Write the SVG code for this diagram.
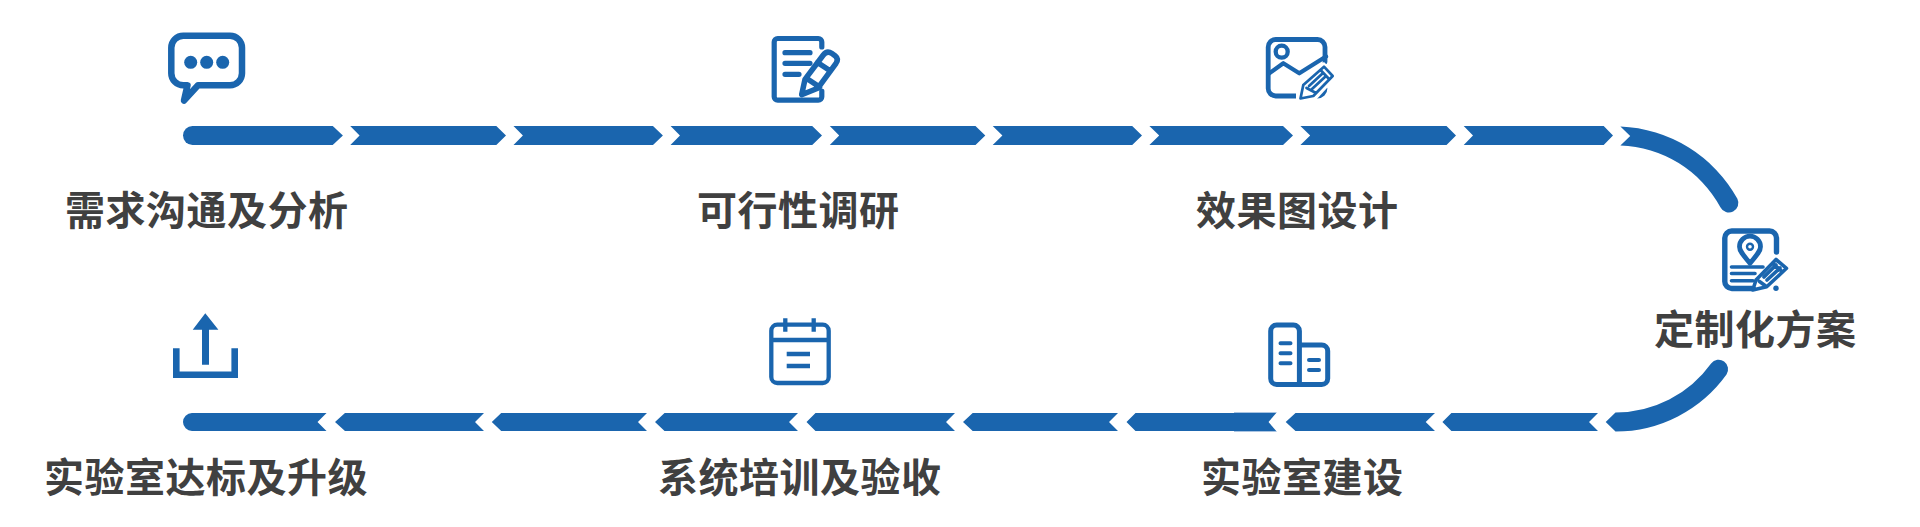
<svg xmlns="http://www.w3.org/2000/svg" width="1920" height="527" viewBox="0 0 1920 527">
<style>
.lb{font-family:"Noto Sans CJK SC","Noto Sans",sans-serif;font-weight:700;font-size:40px;letter-spacing:0.500px;fill:#404040}
.seg{fill:#1a65ae}
.i{fill:none;stroke:#1a65ae;stroke-linecap:round;stroke-linejoin:round}
.f{fill:#1a65ae}
</style>
<rect width="1920" height="527" fill="#fff"/>
<g id="connectors">
<path class="seg" d="M192.500 126H332.700L342.900 135.500L332.700 145H192.500A9.500 9.500 0 0 1 192.500 126Z"/>
<path class="seg" d="M350.200 126H496.300L506 135.500L496.300 145H350.200L359.600 135.500Z"/>
<path class="seg" d="M513.500 126H653L662.900 135.500L653 145H513.500L522.900 135.500Z"/>
<path class="seg" d="M670.600 126H812.200L822 135.500L812.200 145H670.600L680 135.500Z"/>
<path class="seg" d="M829.800 126H975.500L985.300 135.500L975.500 145H829.800L839.200 135.500Z"/>
<path class="seg" d="M992.700 126H1132.200L1142 135.500L1132.200 145H992.700L1002.400 135.500Z"/>
<path class="seg" d="M1149.400 126H1283L1293 135.500L1283 145H1149.400L1159.200 135.500Z"/>
<path class="seg" d="M1300.400 126H1446.500L1456 135.500L1446.500 145H1300.400L1310.200 135.500Z"/>
<path class="seg" d="M1463.700 126H1603.700L1613 135.500L1603.700 145H1463.700L1473 135.500Z"/>
<path class="seg" d="M1620.400 126.600A140 140 0 0 1 1737.400 198.800A9.500 9.500 0 0 1 1720.400 207.300A118 118 0 0 0 1620.400 145.600L1630.200 136Z"/>
<path class="seg" d="M1605.700 422L1615.500 412.500A117.700 117.700 0 0 0 1711.100 363.400A9.500 9.500 0 0 1 1726.500 374.500A136.700 136.700 0 0 1 1615.500 431.500Z"/>
<path class="seg" d="M1442.400 422L1451.400 413H1598L1589 422L1598 431H1451.400Z"/>
<path class="seg" d="M1285.700 422L1295.500 413H1435L1425.700 422L1435 431H1295.500Z"/>
<path fill="#a9c4e2" d="M1234 412H1277.500V432H1234Z"/>
<path class="seg" d="M1126.500 422L1135.500 413H1277.500L1268.600 422L1277.500 431H1135.500Z"/>
<path fill="#fff" d="M1277.500 411.500 1268.600 422 1277.500 432.500H1279V411.500Z"/>
<path class="seg" d="M963 422L972.700 413H1118L1109 422L1118 431H972.700Z"/>
<path class="seg" d="M806.500 422L815.500 413H955L946 422L955 431H815.500Z"/>
<path class="seg" d="M655 422L664.500 413H798L789 422L798 431H664.500Z"/>
<path class="seg" d="M491.800 422L501.200 413H647L638 422L647 431H501.200Z"/>
<path class="seg" d="M335 422L345 413H484L475 422L484 431H345Z"/>
<path class="seg" d="M192 413H326.500L317.500 422L326.500 431H192A9 9 0 0 1 192 413Z"/>
</g>
<g id="node-1">
<path class="i" stroke-width="6.500" d="M183.300 35.700H230A12 12 0 0 1 242 47.700V73.300A12 12 0 0 1 230 85.300H198L184 100.500L187.500 85.300H183.300A12 12 0 0 1 171.300 73.300V47.700A12 12 0 0 1 183.300 35.700Z"/>
<circle class="f" cx="190.700" cy="62.300" r="6.500"/><circle class="f" cx="206.700" cy="62.300" r="6.500"/><circle class="f" cx="222.700" cy="62.300" r="6.500"/>
<text class="lb" x="65" y="225">需求沟通及分析</text>
</g>
<g id="node-2">
<path class="i" stroke-width="5.200" d="M821.800 47V42A3.500 3.500 0 0 0 818.300 38.500H777.700A3.500 3.500 0 0 0 774.200 42V96.700A3.500 3.500 0 0 0 777.700 100.200H818.300A3.500 3.500 0 0 0 821.800 96.700V91"/>
<path class="i" stroke-width="5.200" d="M785 52.700H810M785 63.300H810M785 74.300H799"/>
<path class="i" stroke-width="5.500" d="M805 79.300L823.300 55Q827 50 832 53.500L835 55.700Q839 59 836 63.300L817.700 88.300L801.700 94.700ZM809 80L819.600 87M817.500 62.500L830.500 71"/>
<text class="lb" x="697" y="225">可行性调研</text>
</g>
<g id="node-3">
<path class="i" stroke-width="4.800" d="M1325 62V47A7.500 7.500 0 0 0 1317.500 39.500H1275.700A7.500 7.500 0 0 0 1268.200 47V88.500A7.500 7.500 0 0 0 1275.700 96H1297M1315 96H1317.500A7.500 7.500 0 0 0 1325 88.500"/>
<circle class="i" stroke-width="4.300" cx="1281.700" cy="51.700" r="6"/>
<path class="i" stroke-width="4.300" d="M1269.300 73.300L1283.300 63.300L1299.300 73.300L1326 56.500"/>
<path fill="#fff" d="M1296 102V82L1324 62L1338 76L1316 100Z"/>
<path class="i" stroke-width="2.700" d="M1303.300 85L1324 66.700L1332.700 76L1313.300 96L1300.500 98.500ZM1320.500 70L1329.500 79.500M1306.500 88L1316 93M1309 86L1323 73M1312 89L1326 76"/>
<text class="lb" x="1196" y="225">效果图设计</text>
</g>
<g id="node-4">
<path class="i" stroke-width="5.400" d="M1776.500 252V238A7 7 0 0 0 1769.500 231H1731.800A7 7 0 0 0 1724.800 238V281.500A7 7 0 0 0 1731.800 288.500H1752"/>
<path class="i" stroke-width="4.800" d="M1750 263.300C1743 255 1739.500 251 1739.500 246.700A10.500 10.500 0 0 1 1760.500 246.700C1760.500 251 1757 255 1750 263.300Z"/>
<circle class="i" stroke-width="2.400" cx="1750" cy="246.700" r="3"/>
<path class="i" stroke-width="3.600" d="M1731.500 267H1763M1731.500 273.500H1755M1731.500 280.700H1753"/>
<path class="i" stroke-width="3.600" d="M1756 280L1776 259.500L1786.500 268.300L1766.700 286.700L1752.800 290ZM1772.500 263L1782.500 272M1759.500 281.500L1765 285.500M1764 277L1776 265M1767 280L1780 268"/>
<circle class="f" cx="1776" cy="288.300" r="2.700"/>
<text class="lb" x="1654" y="344">定制化方案</text>
</g>
<g id="node-5">
<path class="i" stroke-width="5" d="M1276.700 325H1293.400A6 6 0 0 1 1299.400 331V384.400H1276.700A6 6 0 0 1 1270.700 378.400V331A6 6 0 0 1 1276.700 325ZM1299.400 345H1321.700A6 6 0 0 1 1327.700 351V378.400A6 6 0 0 1 1321.700 384.400H1299.400"/>
<path class="i" stroke-width="4" d="M1280.500 343.300H1290.500M1280.500 353.300H1290.500M1280.500 363.300H1290.500M1309 360H1319M1309 370H1319"/>
<text class="lb" x="1201" y="492">实验室建设</text>
</g>
<g id="node-6">
<path class="i" stroke-width="4.300" d="M777.300 324.700H822.700A6 6 0 0 1 828.700 330.700V377A6 6 0 0 1 822.700 383H777.300A6 6 0 0 1 771.300 377V330.700A6 6 0 0 1 777.300 324.700ZM771.300 340H828.700"/>
<path class="i" stroke-width="4.300" style="stroke-linecap:butt" d="M785.300 318.300V331.700M813.700 318.300V331.700M786.700 354H810M786.700 366H810"/>
<text class="lb" x="658" y="492">系统培训及验收</text>
</g>
<g id="node-7">
<path class="f" d="M205.300 313.300L218.400 329.700H209V364.700H202V329.700H192.700Z"/>
<path class="f" d="M173 348.300H179.600V371.400H231.400V348.300H238V378H173Z"/>
<text class="lb" x="44" y="492">实验室达标及升级</text>
</g>
</svg>
